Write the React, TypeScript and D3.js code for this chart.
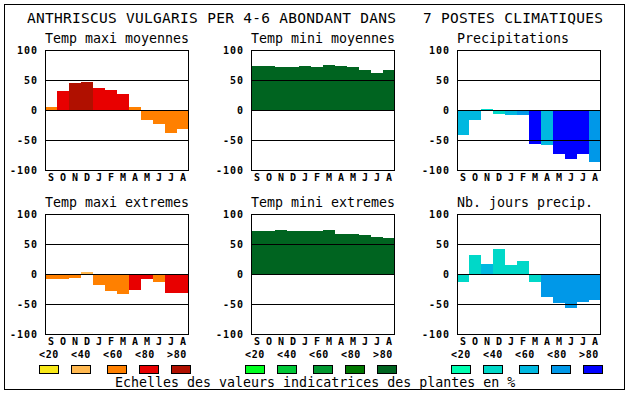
import React from "react";
import * as d3 from "d3";

const months = ["S", "O", "N", "D", "J", "F", "M", "A", "M", "J", "J", "A"];
const yTicks = [100, 50, 0, -50, -100];
const legendLabels = ["<20", "<40", "<60", "<80", ">80"];

const tempColors = ["#f8e818", "#ffb850", "#ff8000", "#e80000", "#b01000"];
const greenColors = ["#00ff20", "#00c838", "#009830", "#007800", "#006420"];
const blueColors = ["#00ffb0", "#00d8c8", "#00b8e0", "#0098e8", "#0000ff"];

const tmaxMoy = [5, 32, 45, 47, 37, 34, 27, 5, -16, -24, -38, -31];
const tmaxMoyCls = [2, 3, 4, 4, 3, 3, 3, 2, 2, 2, 2, 2];

const tminMoy = [73, 73, 72, 71, 73, 71, 75, 73, 72, 66, 62, 66];
const tminMoyCls = [4, 4, 4, 4, 4, 4, 4, 4, 4, 4, 4, 4];

const precip = [-42, -16, 2, -6, -8, -8, -57, -58, -74, -82, -73, -87];
const precipCls = [2, 2, 1, 1, 2, 3, 4, 2, 4, 4, 4, 3];

const tmaxExt = [-8, -8, -6, 3, -18, -28, -33, -26, -8, -14, -31, -31];
const tmaxExtCls = [2, 2, 2, 1, 2, 2, 2, 3, 3, 2, 3, 3];

const tminExt = [72, 72, 73, 72, 72, 72, 73, 67, 67, 65, 62, 60];
const tminExtCls = [4, 4, 4, 4, 4, 4, 4, 4, 4, 4, 4, 4];

const nbJours = [-13, 32, 17, 42, 15, 22, -13, -38, -48, -56, -46, -43];
const nbJoursCls = [1, 1, 2, 1, 1, 1, 1, 3, 3, 3, 3, 3];

const panels = [
  { title: "Temp maxi moyennes", values: tmaxMoy, cls: tmaxMoyCls, colors: tempColors, col: 0, row: 0 },
  { title: "Temp mini moyennes", values: tminMoy, cls: tminMoyCls, colors: greenColors, col: 1, row: 0 },
  { title: "Precipitations", values: precip, cls: precipCls, colors: blueColors, col: 2, row: 0 },
  { title: "Temp maxi extremes", values: tmaxExt, cls: tmaxExtCls, colors: tempColors, col: 0, row: 1, legend: true },
  { title: "Temp mini extremes", values: tminExt, cls: tminExtCls, colors: greenColors, col: 1, row: 1, legend: true },
  { title: "Nb. jours precip.", values: nbJours, cls: nbJoursCls, colors: blueColors, col: 2, row: 1, legend: true },
];

const MONO = "'DejaVu Sans Mono', 'Liberation Mono', monospace";
const LEFTS = [45, 251, 457];
const TOPS = [50, 214];
const PW = 144;
const PH = 120;
const boxOffsets = [0, 32, 68, 100, 132];
const labelOffsets = [10, 42, 74, 106, 138];

function Panel({ p }: { p: any }) {
  const left = LEFTS[p.col];
  const top = TOPS[p.row];
  const x = d3.scaleBand<number>().domain(d3.range(12)).range([left, left + PW]).padding(0);
  const y = d3.scaleLinear().domain([-100, 100]).range([top + PH, top]);
  const y0 = y(0);
  const crisp = (v: number) => Math.round(v) + 0.5;
  return (
    <g>
      <text x={left} y={top - 7} fontFamily={MONO} fontSize={13.3} fill="#000">
        {p.title}
      </text>
      {p.values.map((v: number, i: number) => {
        const yv = y(v);
        return (
          <rect
            key={i}
            x={x(i)}
            y={Math.min(yv, y0)}
            width={x.bandwidth()}
            height={Math.abs(yv - y0)}
            fill={p.colors[p.cls[i]]}
            shapeRendering="crispEdges"
          />
        );
      })}
      {[50, 0, -50].map((t) => (
        <line
          key={t}
          x1={left}
          x2={left + PW}
          y1={crisp(y(t))}
          y2={crisp(y(t))}
          stroke="#000"
          strokeWidth={1}
          shapeRendering="crispEdges"
        />
      ))}
      <rect
        x={left + 0.5}
        y={top + 0.5}
        width={PW - 1}
        height={PH}
        fill="none"
        stroke="#000"
        strokeWidth={1}
        shapeRendering="crispEdges"
      />
      {yTicks.map((t) => (
        <text
          key={t}
          x={left - 7}
          y={y(t) + 4}
          textAnchor="end"
          fontFamily={MONO}
          fontWeight="bold"
          fontSize={10}
          letterSpacing={1}
          fill="#000"
        >
          {String(t)}
        </text>
      ))}
      {months.map((m, i) => (
        <text
          key={i}
          x={(x(i) as number) + x.bandwidth() / 2}
          y={top + PH + 10.5}
          textAnchor="middle"
          fontFamily={MONO}
          fontWeight="bold"
          fontSize={10}
          fill="#000"
        >
          {m}
        </text>
      ))}
      {p.legend && (
        <g>
          {legendLabels.map((l, i) => (
            <text
              key={l}
              x={left - 6 + labelOffsets[i]}
              y={358}
              textAnchor="middle"
              fontFamily={MONO}
              fontWeight="bold"
              fontSize={10}
              letterSpacing={0.6}
              fill="#000"
            >
              {l}
            </text>
          ))}
          {p.colors.map((c: string, i: number) => (
            <rect
              key={i}
              x={left - 6 + boxOffsets[i] + 0.5}
              y={365}
              width={19}
              height={8}
              fill={c}
              stroke="#000"
              strokeWidth={1}
              shapeRendering="crispEdges"
            />
          ))}
        </g>
      )}
    </g>
  );
}

export default function App() {
  return (
    <div style={{ position: "fixed", left: 0, top: 0 }}>
      <svg width={630} height={394} style={{ display: "block", background: "#fff" }}>
        <rect x={0} y={0} width={630} height={394} fill="#fff" />
        <rect
          x={4.5}
          y={4.5}
          width={620}
          height={385}
          fill="none"
          stroke="#000"
          strokeWidth={1}
          shapeRendering="crispEdges"
        />
        <text x={27} y={23} fontFamily={MONO} fontSize={14.5} textLength={369} lengthAdjust="spacing" fill="#000">
          ANTHRISCUS VULGARIS PER 4-6 ABONDANT DANS
        </text>
        <text x={423} y={23} fontFamily={MONO} fontSize={14.5} textLength={180} lengthAdjust="spacing" fill="#000">
          7 POSTES CLIMATIQUES
        </text>
        {panels.map((p, i) => (
          <Panel key={i} p={p} />
        ))}
        <text x={115} y={387} fontFamily={MONO} fontSize={13.3} fill="#000">
          Echelles des valeurs indicatrices des plantes en %
        </text>
      </svg>
    </div>
  );
}
